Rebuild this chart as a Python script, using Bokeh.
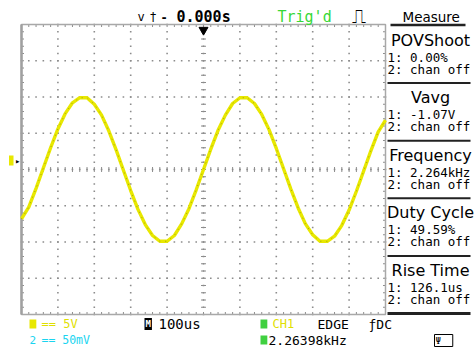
import numpy as np
from bokeh.plotting import figure
from bokeh.models import Label, BoxAnnotation, Range1d, ColumnDataSource
from bokeh.embed import file_html
from bokeh.resources import INLINE

time_us = list(range(-500, 501, 20))
ch1_volts = [-6.8, -5.2, -2.6, 0.2, 3.0, 5.6, 7.7, 9.2, 9.9, 9.9, 9.0, 7.5, 5.3,
             2.7, -0.1, -2.9, -5.5, -7.6, -9.1, -9.9, -9.9, -9.1, -7.5, -5.4, -2.8,
             0.0, 2.8, 5.4, 7.5, 9.1, 9.9, 9.9, 9.1, 7.6, 5.5, 2.9, 0.1, -2.7, -5.3,
             -7.5, -9.0, -9.9, -9.9, -9.2, -7.7, -5.6, -3.0, -0.2, 2.6, 5.2, 6.8]
trigger_time_us = [0.0]

measure_titles = ["POVShoot", "Vavg", "Frequency", "Duty Cycle", "Rise Time"]
measure_ch1 = ["1: 0.00%", "1: -1.07V", "1: 2.264kHz", "1: 49.59%", "1: 126.1us"]
measure_ch2 = ["2: chan off"] * 5

time_div_us = 100
volt_div = 5
n_xdiv, n_ydiv = 10, 8

# ---------------- geometry (pixels) ----------------
PX0, PX1, PY0, PY1 = 0, 474, 0, 347          # canvas extent
GX0, GX1, GY0, GY1 = 21, 385, 24, 314        # scope grid extent
t0, t1 = -n_xdiv / 2 * time_div_us, n_xdiv / 2 * time_div_us
v0, v1 = -n_ydiv / 2 * volt_div, n_ydiv / 2 * volt_div
us_per_px = (t1 - t0) / (GX1 - GX0)
v_per_px = (v1 - v0) / (GY1 - GY0)

W, H = PX1 - PX0, PY1 - PY0
p = figure(width=W, height=H, output_backend="svg", toolbar_location=None,
           x_axis_location=None, y_axis_location=None,
           x_range=Range1d(PX0, PX1), y_range=Range1d(PY1, PY0),
           min_border=0)
p.extra_x_ranges = {"t": Range1d(t0 - (GX0 - PX0) * us_per_px, t1 + (PX1 - GX1) * us_per_px)}
p.extra_y_ranges = {"v": Range1d(v0 - (PY1 - GY1) * v_per_px, v1 + (GY0 - PY0) * v_per_px)}
p.background_fill_color = "white"
p.border_fill_color = "white"
p.outline_line_color = None
p.xgrid.visible = False
p.ygrid.visible = False

R = dict(x_range_name="t", y_range_name="v")
GRID = "#8c8c8c"

# grid dots (every 1/5 division along each division line)
minor_t = np.arange(t0, t1 + 1e-6, time_div_us / 5)
minor_v = np.arange(v0, v1 + 1e-6, volt_div / 5)
major_t = np.arange(t0 + time_div_us, t1 - 1e-6, time_div_us)
major_v = np.arange(v0 + volt_div, v1 - 1e-6, volt_div)
hx, hy = np.meshgrid(minor_t, major_v)
vx, vy = np.meshgrid(major_t, minor_v)
p.scatter(x=np.concatenate([hx.ravel(), vx.ravel()]), y=np.concatenate([hy.ravel(), vy.ravel()]),
          marker="square", size=1.6, fill_color=GRID, line_color=None, **R)

# centre cross and border minor ticks
tx = 2.5 * us_per_px
ty = 2.5 * v_per_px
seg = dict(line_color=GRID, line_width=1, **R)
p.segment(x0=minor_t, y0=-ty, x1=minor_t, y1=ty, **seg)
p.segment(x0=-tx, y0=minor_v, x1=tx, y1=minor_v, **seg)
p.segment(x0=minor_t, y0=v1, x1=minor_t, y1=v1 - ty, **seg)
p.segment(x0=minor_t, y0=v0, x1=minor_t, y1=v0 + ty, **seg)
p.segment(x0=t0, y0=minor_v, x1=t0 + tx, y1=minor_v, **seg)
p.segment(x0=t1, y0=minor_v, x1=t1 - tx, y1=minor_v, **seg)
# screen border
p.quad(left=[t0], right=[t1], bottom=[v0], top=[v1], fill_alpha=0,
       line_color="#a8a8a8", line_width=1.5, **R)
p.segment(x0=[t0], y0=[v0], x1=[t0], y1=[v1], line_color="#a0a0a0", line_width=2.5, **R)

# waveform
src = ColumnDataSource(dict(t=time_us, v=ch1_volts))
p.line("t", "v", source=src, line_color="#e8e800", line_width=3.4, **R)
p.line("t", "v", source=src, line_color="#5a5a20", line_width=1, line_alpha=0.5,
       line_dash="1 5", **R)

# trigger position marker
p.scatter(x=trigger_time_us, y=[v1 - 0.75], marker="inverted_triangle", size=9,
          fill_color="black", line_color="black", **R)

# ---------------- text around the screen (pixel coordinates) ----------------
MONO = "DejaVu Sans Mono"
SANS = "DejaVu Sans"

def lab(rx, ry, text, size, color="black", font=MONO, align="left", style="normal",
        bg=None, border=None, pad=0):
    p.add_layout(Label(x=rx, y=ry, text=text, text_font_size=f"{size}px",
                       text_color=color, text_font=font, text_align=align,
                       text_baseline="middle", text_font_style=style,
                       background_fill_color=bg, border_line_color=border, padding=pad))

def hline(rx0, rx1, ry, th, color="#222222"):
    p.add_layout(BoxAnnotation(left=rx0, right=rx1, top=ry - th / 2, bottom=ry + th / 2,
                               fill_color=color, fill_alpha=1, line_alpha=0))

# top bar
lab(137, 16.5, "v", 12)
lab(149, 16.5, "†", 12)
lab(160, 16.5, "-", 12, style="bold")
lab(176, 16.5, "0.000s", 15, style="bold")
lab(277, 16.5, "Trig'd", 15, color="#36d836")
lab(351, 15.5, "⎍", 20)
lab(402, 16.5, "Measure", 13.5, font=SANS)
hline(390, 465, 24.5, 2.5)

# right measurement panel
S = [25, 82.6, 140.2, 197.8, 255.4]
for s, t, a, b in zip(S, measure_titles, measure_ch1, measure_ch2):
    lab(430, s + 14.5, t, 16, font=SANS, align="center")
    lab(387, s + 31.5, a, 12.5)
    lab(387, s + 43.5, b, 12.5)
    if s != S[0]:
        hline(387, 470, s, 2)
hline(387, 470, 313, 3)

# left channel marker
p.add_layout(BoxAnnotation(left=8.5, right=13, top=155, bottom=165,
                           fill_color="#e8e800", fill_alpha=1, line_alpha=0))
lab(14.5, 160, "▸", 9)

# bottom status
r1, r2 = 323.5, 339.5
lab(29, r1, "1", 8, color="#e8e800", bg="#e8e800", pad=1)
lab(41, r1, "== 5V", 12, color="#e0e000")
lab(29, r2, "2", 11, color="#1ad4f0")
lab(41, r2, "== 50mV", 11.5, color="#1ad4f0")
lab(144, r1, "M", 9, color="white", bg="black", style="bold", pad=1)
lab(158, r1, "100us", 14)
lab(260, r1, "1", 8, color="#40d040", bg="#40d040", pad=1)
lab(272, r1, "CH1", 12, color="#e0e000")
lab(317, r1, "EDGE", 13)
lab(368, r1, "ƒDC", 13)
lab(260, r2, "2", 8, color="#40d040", bg="#40d040", pad=1)
lab(268, r2, "2.26398kHz", 13)
lab(434, r2 + 0.5, " Ψ ", 9, border="black", pad=1)

open("out.html", "w").write(file_html(p, INLINE))
